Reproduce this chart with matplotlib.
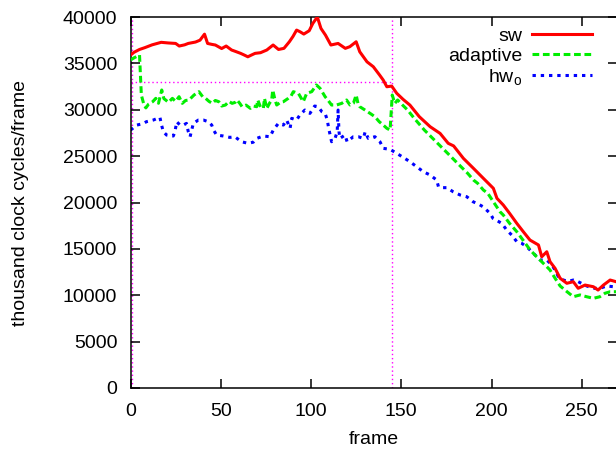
import matplotlib
matplotlib.use("Agg")
from matplotlib import pyplot as plt

# frame numbers and values (thousand clock cycles/frame)
sw_x = [0, 2, 5, 8, 12, 17, 21, 25, 27, 30, 32, 36, 38.5, 41, 42.7, 45, 47, 50.5, 53, 56,
        58, 61, 63, 65, 67, 69, 72, 75.5, 79, 82, 85, 88, 90, 92, 94, 96, 99, 101, 103.5,
        105.5, 108, 111, 115, 119, 121.5, 125, 127, 131, 134.5, 138, 140, 142, 144.7,
        147.5, 151, 154.8, 160, 166, 171.5, 176, 179, 184.4, 190, 195.5, 201, 203, 206.5,
        210, 214, 217.6, 221.3, 226, 227.8, 230.6, 232.4, 235.2, 238, 241.7, 245.3, 248,
        251.8, 256.4, 259, 262, 265.7, 269]
sw_y = [35900, 36200, 36500, 36700, 37000, 37270, 37200, 37150, 36870, 37000, 37150, 37300,
        37500, 38150, 37150, 37050, 36980, 36600, 36870, 36440, 36300, 36080, 35900, 35710,
        35900, 36080, 36150, 36440, 36980, 36500, 36620, 37330, 37900, 38590, 38400, 38160,
        38520, 39310, 40000, 38770, 38050, 36980, 37150, 36620, 36800, 37330, 36250, 35170,
        34640, 33740, 33200, 32480, 32550, 31770, 31120, 30500, 29250, 28170, 27450, 26380,
        26100, 24760, 23680, 22600, 21530, 20450, 19730, 18830, 17750, 16850, 15950, 15420,
        14150, 14690, 13620, 12900, 11830, 11290, 11460, 10750, 11100, 10920, 10560, 11100,
        11640, 11460]

adaptive_x = [0, 2, 5, 6, 7.5, 8.5, 10, 12.3, 14, 15.5, 17.3, 18.5, 19.5, 21, 23.2, 25, 26.9,
              28.7, 30.5, 32.4, 35.2, 37.9, 40, 41.6, 43.5, 45.3, 47, 48.9, 50.5, 52.6, 54.5,
              56.3, 58, 59, 60.5, 61.8, 64, 66.4, 68, 69.9, 70.5, 72, 73.6, 74.2, 75.5, 77,
              78.2, 78.8, 80, 81, 83, 84.7, 87.4, 89, 90.2, 93, 95.7, 97.6, 100.4, 102, 103,
              105, 107.8, 109.5, 111.4, 114.1, 117, 119.7, 121.6, 123.5, 125, 126, 127, 129.9,
              132.7, 135.4, 137.8, 140, 142, 143.8, 145, 146.4, 148, 150.7, 153.5, 157.2,
              162.8, 168.3, 172, 175.7, 181.2, 186.8, 190, 192.3, 195.5, 197.9, 201, 204.7,
              206.5, 210, 214, 217.6, 221.3, 225, 228.7, 230.6, 232.4, 235.2, 238, 241.7,
              245.3, 249, 252.7, 256.4, 260, 262.8, 265.7, 269]
adaptive_y = [35360, 35600, 35900, 31590, 30500, 30200, 30600, 30870, 31230, 30700, 32130,
              31200, 31050, 30800, 31230, 30900, 31410, 30690, 31000, 31050, 31590, 31950,
              31400, 31230, 30900, 30690, 31000, 30870, 30400, 30510, 30900, 30690, 30800,
              31050, 30700, 30330, 30500, 30150, 30400, 30330, 31050, 30300, 30150, 31230,
              30150, 30700, 31050, 32130, 31100, 30510, 30800, 30870, 31230, 31500, 31950,
              31770, 30870, 31770, 31950, 32400, 32670, 32310, 31410, 31000, 30510, 30510,
              30690, 31050, 30510, 30700, 31590, 30700, 30330, 29970, 29610, 29250, 28710,
              28350, 28000, 27810, 31590, 30690, 31050, 30510, 29970, 29070, 27810, 26740,
              26020, 25300, 24220, 23140, 22420, 22070, 21340, 21000, 20080, 19000, 18650,
              17750, 16850, 15900, 14900, 14150, 13440, 13080, 12720, 11830, 11000, 10400,
              9840, 10030, 9840, 9670, 9840, 10210, 10380, 10380]

hwo_x = [0, 3.5, 7, 8.8, 12.6, 16.3, 17.2, 18.2, 20, 22, 23.7, 24.6, 25.6, 27.4, 29.3, 31,
         32, 33, 34.8, 37.6, 40.4, 43.1, 45, 46, 47.7, 51.4, 55, 57.8, 61.5, 65.1, 68, 69.9,
         73.6, 77.3, 79.1, 81.9, 84.7, 86.5, 88.4, 89.3, 92, 93.8, 96.6, 99.4, 102, 104, 106,
         107.8, 109, 109.8, 111.4, 113.3, 114.5, 115, 115.5, 116, 118.8, 120, 123.4, 126.2,
         129, 130, 131.7, 135.4, 137.2, 138.2, 140, 143.8, 147.5, 151, 154.8, 158.5, 162.2,
         166, 169.6, 170.6, 172.4, 175.3, 178.7, 182.6, 186.3, 189.8, 193, 195.3, 199.2,
         200.8, 205.7, 208.4, 211.2, 214, 216.7, 219.5, 222.3, 226.9, 230.6, 233.4, 235.2,
         237, 239.8, 242.5, 245.3, 248, 252.7, 256.4, 260, 263.8, 267.5]
hwo_y = [27810, 28350, 28500, 28710, 28890, 29180, 28350, 27630, 27270, 27200, 27170, 27600,
         28710, 28350, 28350, 28530, 27650, 27090, 28530, 28890, 28890, 28710, 28350, 27810,
         27270, 27170, 27020, 27090, 26550, 26380, 26500, 26910, 27170, 27090, 27810, 28530,
         28350, 28890, 28000, 29070, 28890, 29430, 29970, 29610, 30400, 30330, 29790, 29610,
         28890, 27990, 26550, 26910, 27630, 29970, 27630, 26910, 27270, 26550, 27090, 27090,
         26910, 27630, 26910, 27090, 26740, 26550, 25840, 25730, 25300, 24870, 24400, 23860,
         23320, 22960, 22420, 21700, 21600, 21600, 21160, 20810, 20620, 20080, 19800, 19540,
         18830, 18290, 17750, 17030, 16490, 15770, 15600, 15230, 14690, 13800, 13800, 13260,
         12720, 12000, 11640, 11500, 11640, 11460, 11000, 10750, 10750, 11000, 10920]

marker_frames = [1, 145]
marker_level = 33000

plt.rcParams['font.family'] = ['Liberation Sans', 'DejaVu Sans']
plt.rcParams['mathtext.fontset'] = 'custom'
plt.rcParams['mathtext.rm'] = 'Liberation Sans'
plt.rcParams['mathtext.it'] = 'Liberation Sans'

fig = plt.figure(figsize=(6.16, 4.54), dpi=100)
ax = fig.add_axes([130.5 / 616, 66 / 454, 486.5 / 616, 371 / 454])

# magenta guide lines
for f in marker_frames:
    ax.axvline(f, color='#ff00ff', lw=1.0, ls=(0, (1, 2)), zorder=1)
ax.plot([0, marker_frames[1]], [marker_level, marker_level], color='#ff00ff', lw=1.0,
        ls=(0, (1, 2)), zorder=1)

ax.plot(sw_x, sw_y, color='#ff0000', lw=2.2, label='sw', zorder=4)
ax.plot(adaptive_x, adaptive_y, color='#00ee00', lw=2.2, ls=(0, (2.2, 1.2)),
        label='adaptive', zorder=3)
ax.plot(hwo_x, hwo_y, color='#0000ff', lw=2.2, ls=(0, (1.1, 1.6)),
        label='hw$_{\\rm o}$', zorder=2)

ax.set_xlim(0, 269.5)
ax.set_ylim(0, 40000)
ax.set_xticks(range(0, 251, 50))
ax.set_yticks(range(0, 40001, 5000))
ax.tick_params(direction='in', length=6.5, width=1.1, top=True, right=True,
               labelsize=14, pad=11)
ax.tick_params(axis='y', pad=9.5)
for s in ax.spines.values():
    s.set_linewidth(1.1)
ax.spines['right'].set_visible(False)

ax.set_xlabel('frame', fontsize=14, labelpad=8)
ax.set_ylabel('thousand clock cycles/frame', fontsize=14, labelpad=24)

ax.legend(loc='upper right', bbox_to_anchor=(592.3 / 616, 1 - 27 / 454),
          bbox_transform=fig.transFigure, frameon=False, markerfirst=False,
          fontsize=14, handlelength=3.1, handletextpad=0.5, labelspacing=0.12,
          borderpad=0, borderaxespad=0)

fig.savefig('out.png', dpi=100)
